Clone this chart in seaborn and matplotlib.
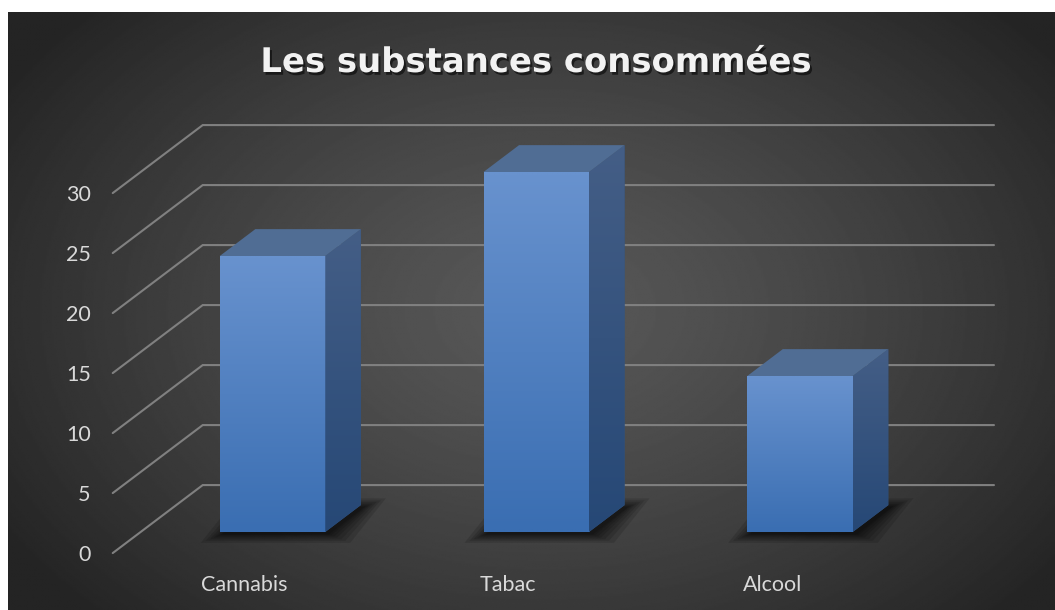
import numpy as np
import pandas as pd
import matplotlib
matplotlib.use("Agg")
import matplotlib.pyplot as plt
import matplotlib.patheffects as pe
from matplotlib.patches import Polygon
from matplotlib.transforms import offset_copy
import seaborn as sns

# ---- data ----
categories = ["Cannabis", "Tabac", "Alcool"]
values = [23, 30, 13]
tick_values = [0, 5, 10, 15, 20, 25, 30]
title = "Les substances consommées"

sns.set_theme(style="white")
plt.rcParams["font.family"] = ["Lato", "DejaVu Sans"]

W, H, DPI = 1055, 610, 100
fig = plt.figure(figsize=(W / DPI, H / DPI), dpi=DPI, facecolor="white")

# ---- chart area: dark radial gradient ----
LEFT_PX, TOP_PX = 8, 12
bg = fig.add_axes([LEFT_PX / W, 0, 1 - LEFT_PX / W, (H - TOP_PX) / H])
bg.set_axis_off()
gx = np.linspace(LEFT_PX, W, 600)
gy = np.linspace(TOP_PX, H, 400)
GX, GY = np.meshgrid(gx, gy)
rad = np.sqrt(((GX - 545) / 640) ** 2 + ((GY - 310) / 440) ** 2)
shade = (88 - (88 - 36) * np.clip(rad, 0, 1) ** 1.3) / 255
bg.imshow(shade, cmap="gray", vmin=0, vmax=1, extent=(0, 1, 0, 1),
          origin="upper", aspect="auto", interpolation="bilinear")

# ---- main axes in the plane of the bar faces ----
PX_CAT = 263.75          # pixels between category centres
PX_VAL = 12.0            # pixels per value unit
X0_PX, Y0_PX = 272.5, 532.0
ax = fig.add_axes([0, 0, 1, 1])
ax.patch.set_alpha(0)

# oblique depth vector (whole floor depth) in data units
DEPTH = np.array([90 / PX_CAT, 68 / PX_VAL])
D_FRONT = 0.31           # depth of the bar faces inside the floor
D_BAR = 0.395            # bar depth as a fraction of the floor depth
px_x = 1 / PX_CAT
px_y = 1 / PX_VAL

GRID_COLOR = "#808080"
TEXT_COLOR = "#d9d9d9"

# gridlines: side wall diagonal + back wall horizontal
for v in tick_values:
    front = np.array([-0.5, v]) - D_FRONT * DEPTH
    back = np.array([-0.5, v]) + (1 - D_FRONT) * DEPTH
    right = np.array([2.5, v]) + (1 - D_FRONT) * DEPTH
    ax.plot([front[0], back[0], right[0]], [front[1], back[1], right[1]],
            color=GRID_COLOR, lw=1.5, zorder=1, clip_on=False,
            solid_joinstyle="miter")
    ax.text(front[0], front[1], str(v),
            transform=offset_copy(ax.transData, fig=fig, x=-22, y=0, units="dots"),
            ha="right", va="center_baseline", fontsize=15.5, color=TEXT_COLOR)

df = pd.DataFrame({"Substance": categories, "Valeur": values})
sns.barplot(data=df, x="Substance", y="Valeur", ax=ax, width=0.4,
            color="#4a7fc1", saturation=1, zorder=3, errorbar=None)

bars = list(ax.patches)
db = D_BAR * DEPTH
front_grad = np.linspace(np.array([104, 146, 206]), np.array([58, 110, 178]), 64)[:, None, :] / 255
side_grad = np.linspace(np.array([68, 94, 134]), np.array([38, 72, 118]), 64)[:, None, :] / 255

for bar in bars:
    x0, w, h = bar.get_x(), bar.get_width(), bar.get_height()

    # soft floor shadow around the footprint
    sx, sy = 3 * px_x, -2 * px_y
    for e in [22, 17, 13, 9, 6, 3, 1]:
        ex, ey = e * px_x, e * 0.4 * px_y
        pts = [(x0 - ex + sx, -ey + sy), (x0 + w + ex + sx, -ey + sy),
               (x0 + w + db[0] + ex + sx, db[1] + ey + sy),
               (x0 + db[0] - ex + sx, db[1] + ey + sy)]
        ax.add_patch(Polygon(pts, closed=True, facecolor="black", edgecolor="none",
                             alpha=0.13, zorder=2))

    # front face gradient
    bar.set_edgecolor("none")
    im = ax.imshow(front_grad, extent=(x0, x0 + w, 0, h), origin="upper",
                   aspect="auto", zorder=3.1, interpolation="bilinear")
    im.set_clip_path(bar)

    # right side face
    side_pts = [(x0 + w, 0), (x0 + w, h), (x0 + w + db[0], h + db[1]), (x0 + w + db[0], db[1])]
    side = Polygon(side_pts, closed=True, facecolor="#34557f", edgecolor="none", zorder=3)
    ax.add_patch(side)
    im2 = ax.imshow(side_grad, extent=(x0 + w, x0 + w + db[0], 0, h + db[1]),
                    origin="upper", aspect="auto", zorder=3.1, interpolation="bilinear")
    im2.set_clip_path(side)

    # top face
    top_pts = [(x0, h), (x0 + w, h), (x0 + w + db[0], h + db[1]), (x0 + db[0], h + db[1])]
    ax.add_patch(Polygon(top_pts, closed=True, facecolor="#506d94", edgecolor="none", zorder=3.2))

# category labels on the front edge of the floor
for i, cat in enumerate(categories):
    p = np.array([i, 0]) - D_FRONT * DEPTH
    ax.text(p[0], p[1], cat,
            transform=offset_copy(ax.transData, fig=fig, x=0, y=-38, units="dots"),
            ha="center", va="baseline", fontsize=15.5, color=TEXT_COLOR)

ax.set_xlim(-X0_PX / PX_CAT, (W - X0_PX) / PX_CAT)
ax.set_ylim((Y0_PX - H) / PX_VAL, Y0_PX / PX_VAL)
ax.set_axis_off()

fig.text(536 / W, 1 - 72 / H, title, ha="center", va="baseline",
         fontsize=24.4, fontweight="bold", family=["DejaVu Sans"], color="#f2f2f2",
         path_effects=[pe.withSimplePatchShadow(offset=(1.5, -2), shadow_rgbFace="black", alpha=0.55)])

fig.savefig("out.png", dpi=DPI, facecolor="white")
